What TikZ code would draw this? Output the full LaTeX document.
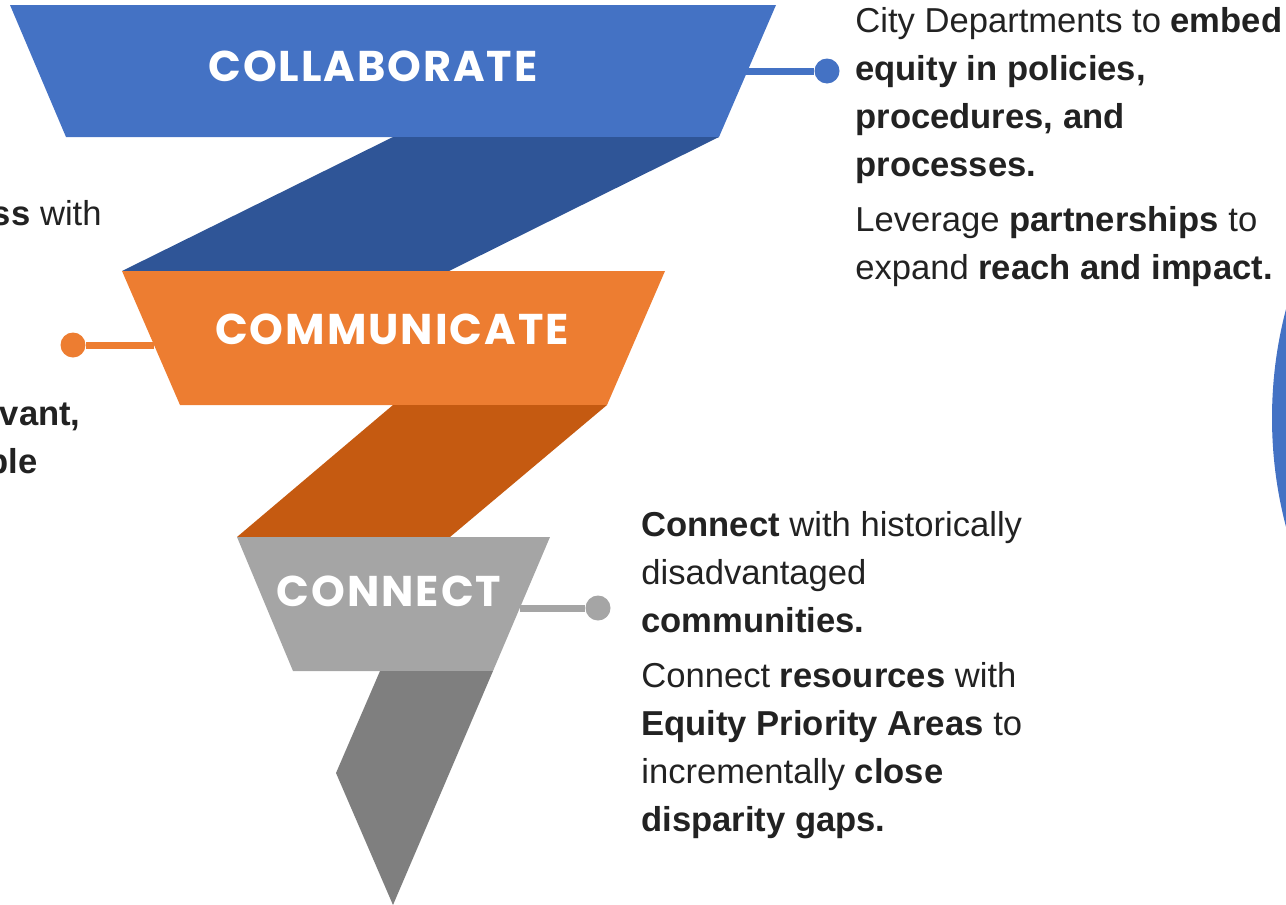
\documentclass[tikz,border=0pt]{standalone}
\usepackage{fontspec}
\setmainfont{Liberation Sans}
\newfontfamily\headfont{Poppins}[LetterSpace=4.5]

\definecolor{collab}{HTML}{4472C4}
\definecolor{collabdark}{HTML}{2F5597}
\definecolor{commun}{HTML}{ED7D31}
\definecolor{commundark}{HTML}{C55A11}
\definecolor{conn}{HTML}{A5A5A5}
\definecolor{conndark}{HTML}{7F7F7F}
\definecolor{ink}{HTML}{222222}

\begin{document}
\begin{tikzpicture}[x=0.5pt,y=-0.5pt,
    stagelabel/.style={text=white,inner sep=0pt,anchor=base,
        font=\headfont\bfseries\fontsize{21.5}{24}\selectfont},
    dot/.style={circle,fill=#1,minimum size=12.5pt,inner sep=0pt},
    stem/.style={#1,line width=3.5pt},
    blurb/.style={anchor=north west,align=left,inner sep=0pt,text=ink,
        font=\fontsize{17.3}{24}\selectfont}]
    \def\stage#1#2#3#4#5{
        \fill[#1] (#2) -- (#3) -- (#4) -- (#5) -- cycle;
    }

    \useasboundingbox (0,0) rectangle (1286,905);
    \clip (0,0) rectangle (1286,905);

    % big disc peeking in on the right
    \fill[collab] (1699,418) circle (427);

    % Collaborate (top)
    \stage{collab}{10,5}{776,5}{719,137}{66,137}
    \stage{collabdark}{393,137}{719,137}{449,271}{122,271}
    \node[stagelabel] (collab) at (373,81) {COLLABORATE};

    % Communicate (middle)
    \stage{commun}{122,271}{665,271}{607,405}{180,405}
    \stage{commundark}{393,405}{607,405}{450,537}{237,537}
    \node[stagelabel] (commun) at (392,344) {COMMUNICATE};

    % Connect (bottom, ends in the point)
    \stage{conn}{237,537}{550,537}{493,671}{293,671}
    \fill[conndark] (380,671) -- (493,671) -- (393,905) -- (336,773) -- cycle;
    \node[stagelabel] (conn) at (389,606) {CONNECT};

    % callout stems
    \coordinate (collabedge) at (740,71);
    \node[dot=collab] (collabdot) at (827,71) {};
    \draw[stem=collab] (collabedge) -- (collabdot);

    \coordinate (communedge) at (154,345);
    \node[dot=commun] (commundot) at (73,345) {};
    \draw[stem=commun] (communedge) -- (commundot);

    \coordinate (connedge) at (520,608);
    \node[dot=conn] (conndot) at (598,608) {};
    \draw[stem=conn] (connedge) -- (conndot);

    % text blocks (top of first line)
    \node[blurb] (collabtext) at (855,7) {City Departments to \textbf{embed}\\
        \textbf{equity in policies,}\\
        \textbf{procedures, and}\\
        \textbf{processes.}\\[3.5pt]
        Leverage \textbf{partnerships} to\\
        expand \textbf{reach and impact.}};

    \node[blurb] (conntext) at (641,511) {\textbf{Connect} with historically\\
        disadvantaged\\
        \textbf{communities.}\\[3.5pt]
        Connect \textbf{resources} with\\
        \textbf{Equity Priority Areas} to\\
        incrementally \textbf{close}\\
        \textbf{disparity gaps.}};

    % left column runs off the edge
    \node[blurb,anchor=base east] (communtexta) at (102,225) {\textbf{ss} with};
    \node[blurb,anchor=base east] (communtextb) at (81,425) {\textbf{vant,}};
    \node[blurb,anchor=base east] (communtextc) at (38,473) {\textbf{ble}};
\end{tikzpicture}
\end{document}
